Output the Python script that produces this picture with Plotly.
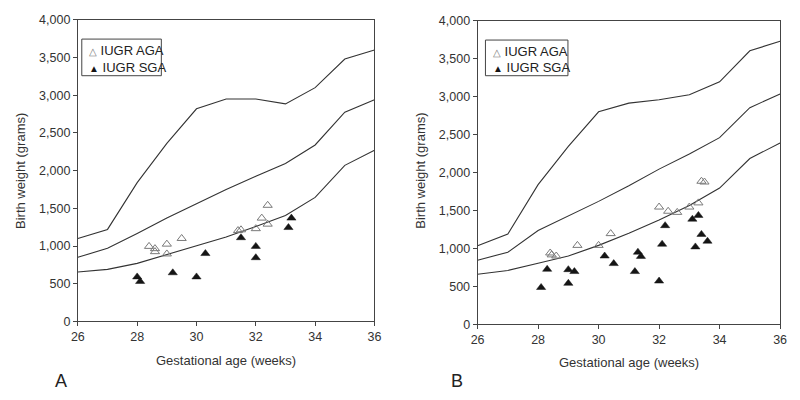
import plotly.graph_objects as go

weeks = [26, 27, 28, 29, 30, 31, 32, 33, 34, 35, 36]

# Panel A reference curves
a_upper = [1100, 1220, 1840, 2360, 2820, 2950, 2950, 2885, 3100, 3480, 3600]
a_middle = [850, 970, 1165, 1370, 1560, 1750, 1925, 2095, 2340, 2775, 2940]
a_lower = [655, 690, 770, 885, 995, 1120, 1260, 1405, 1645, 2070, 2270]

# Panel A points
a_aga_x = [28.4, 28.6, 28.6, 29.0, 29.0, 29.5, 31.4, 31.5, 32.0, 32.2, 32.4, 32.4]
a_aga_y = [995, 965, 925, 1025, 895, 1100, 1205, 1215, 1230, 1370, 1540, 1290]
a_sga_x = [28.0, 28.1, 29.2, 30.0, 30.3, 31.5, 32.0, 32.0, 33.1, 33.2]
a_sga_y = [590, 530, 645, 590, 900, 1110, 995, 845, 1245, 1370]

# Panel B reference curves
b_upper = [1035, 1190, 1840, 2345, 2800, 2915, 2960, 3025, 3195, 3605, 3730]
b_middle = [845, 950, 1235, 1425, 1620, 1825, 2045, 2245, 2460, 2855, 3035]
b_lower = [660, 710, 805, 900, 1040, 1200, 1375, 1565, 1795, 2185, 2390]

# Panel B points
b_aga_x = [28.4, 28.45, 28.6, 29.3, 30.0, 30.4, 32.0, 32.3, 32.6, 33.0, 33.3, 33.4, 33.5]
b_aga_y = [940, 915, 900, 1040, 1040, 1195, 1545, 1490, 1475, 1545, 1600, 1885, 1875]
b_sga_x = [28.1, 28.3, 29.0, 29.0, 29.2, 30.2, 30.5, 31.2, 31.3, 31.4, 32.0, 32.1, 32.2, 33.1, 33.3, 33.2, 33.4, 33.6]
b_sga_y = [485, 725, 720, 540, 695, 900, 800, 695, 950, 895, 570, 1055, 1300, 1385, 1435, 1020, 1185, 1095]

x_ticks = [26, 28, 30, 32, 34, 36]
y_ticks = [0, 500, 1000, 1500, 2000, 2500, 3000, 3500, 4000]
y_tick_labels = ["0", "500", "1,000", "1,500", "2,000", "2,500", "3,000", "3,500", "4,000"]
series_names = ["IUGR AGA", "IUGR SGA"]

FONT = "Liberation Sans, Arial, sans-serif"
LINE_C = "#333333"
AGA_C = "#7a7a7a"
SGA_C = "#151515"

# Figure sized to fit inside the 800x400 window with the page's default 8px body margin
OFF = 8
W, H = 800 - 2 * OFF, 400 - 2 * OFF


def px(x):
    return (x - OFF) / W


def py(y):
    return 1 - (y - OFF) / H


fig = go.Figure()

panels = [
    ("x", "y", a_upper, a_middle, a_lower, a_aga_x, a_aga_y, a_sga_x, a_sga_y),
    ("x2", "y2", b_upper, b_middle, b_lower, b_aga_x, b_aga_y, b_sga_x, b_sga_y),
]

for xa, ya, up, mid, lo, agx, agy, sgx, sgy in panels:
    for curve in (up, mid, lo):
        fig.add_trace(go.Scatter(x=weeks, y=curve, mode="lines", xaxis=xa, yaxis=ya,
                                 line=dict(color=LINE_C, width=1.1), showlegend=False,
                                 hoverinfo="skip"))
    fig.add_trace(go.Scatter(x=agx, y=agy, mode="markers", xaxis=xa, yaxis=ya, name=series_names[0],
                             showlegend=False,
                             marker=dict(symbol="triangle-up-open", size=8, color=AGA_C,
                                         line=dict(color=AGA_C, width=1))))
    fig.add_trace(go.Scatter(x=sgx, y=sgy, mode="markers", xaxis=xa, yaxis=ya, name=series_names[1],
                             showlegend=False,
                             marker=dict(symbol="triangle-up", size=8, color=SGA_C,
                                         line=dict(color=SGA_C, width=0.5))))

axis_common = dict(showgrid=False, zeroline=False, showline=True, mirror=True,
                   linecolor="#444444", linewidth=1, ticks="outside", ticklen=4,
                   tickcolor="#444444", ticklabeloverflow="allow",
                   tickfont=dict(family=FONT, size=12.5, color="#333333"))

fig.update_layout(
    width=W, height=H,
    margin=dict(l=0, r=0, t=0, b=0),
    paper_bgcolor="white", plot_bgcolor="white",
    font=dict(family=FONT, size=12, color="#333333"),
    showlegend=False,
    xaxis=dict(domain=[px(72), px(374)], range=[26, 36], tickvals=x_ticks, anchor="y", **axis_common),
    yaxis=dict(domain=[py(326), py(13)], range=[0, 4000], tickvals=y_ticks, ticktext=y_tick_labels,
               anchor="x", **axis_common),
    xaxis2=dict(domain=[px(479), px(787)], range=[26, 36], tickvals=x_ticks, anchor="y2", **axis_common),
    yaxis2=dict(domain=[py(329), py(14)], range=[0, 4000], tickvals=y_ticks, ticktext=y_tick_labels,
                anchor="x2", **axis_common),
)

ann = dict(showarrow=False, xref="paper", yref="paper", xanchor="center", yanchor="middle",
           font=dict(family=FONT, size=13, color="#333333"))
fig.add_annotation(text="Birth weight (grams)", x=px(13), y=py(170), textangle=-90, **ann)
fig.add_annotation(text="Birth weight (grams)", x=px(420), y=py(170), textangle=-90, **ann)
fig.add_annotation(text="Gestational age (weeks)", x=px(223), y=py(367), **ann)
fig.add_annotation(text="Gestational age (weeks)", x=px(633), y=py(369), **ann)
big = dict(showarrow=False, xref="paper", yref="paper", xanchor="center", yanchor="middle",
           font=dict(family=FONT, size=18, color="#222222"))
fig.add_annotation(text="A", x=px(55), y=py(388), **big)
fig.add_annotation(text="B", x=px(458), y=py(388), **big)

# Legends (box + entries)
legend_boxes = [(76, 33, 157, 71), (487, 34, 571, 71)]
legend_rows = [((81, 45), (81, 62)), ((493, 46), (493, 62))]
symbols = [("\u25b3", AGA_C), ("\u25b2", SGA_C)]
for (x0, y0, x1, y1), rows in zip(legend_boxes, legend_rows):
    fig.add_shape(type="rect", xref="paper", yref="paper", x0=px(x0), x1=px(x1), y0=py(y1), y1=py(y0),
                  line=dict(color="#444444", width=1), fillcolor="white", layer="above")
    for (lx, ly), (sym, col), name in zip(rows, symbols, series_names):
        fig.add_annotation(text=f"<span style='color:{col};font-size:10px'>{sym}</span> {name}",
                           x=px(lx), y=py(ly), xref="paper", yref="paper", xanchor="left",
                           yanchor="middle", showarrow=False,
                           font=dict(family=FONT, size=13, color="#222222"))

fig.write_html("out.html")
